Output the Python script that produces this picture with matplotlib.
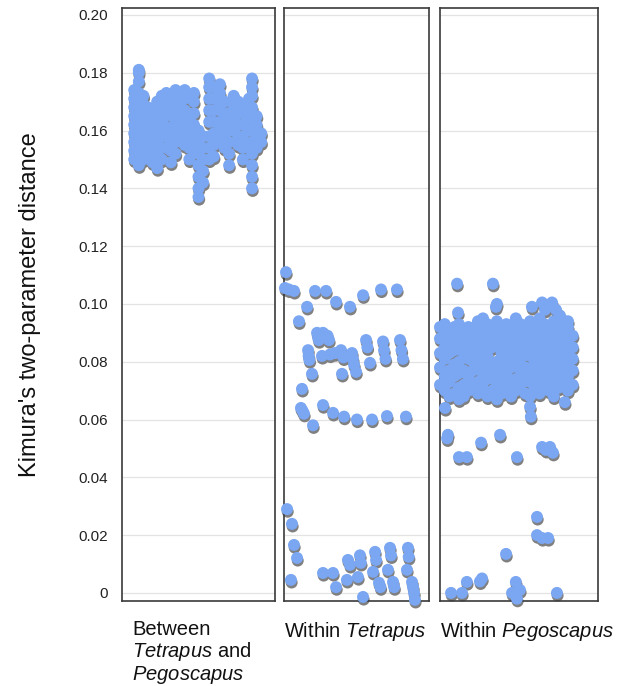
import matplotlib
matplotlib.use("Agg")
import matplotlib.pyplot as plt
import matplotlib.transforms as mtransforms
import numpy as np

plt.rcParams["font.family"] = ["Liberation Sans", "DejaVu Sans"]
plt.rcParams["mathtext.fontset"] = "custom"
plt.rcParams["mathtext.rm"] = "Liberation Sans"
plt.rcParams["mathtext.it"] = "Liberation Sans:italic"

# ── Data: pairwise K2P distances, x = comparison rank within group (0-100) ──
GROUP_LABELS = [
    "Between\n$\\it{Tetrapus}$ and\n$\\it{Pegoscapus}$",
    "Within $\\it{Tetrapus}$",
    "Within $\\it{Pegoscapus}$",
]
Y_TICKS = [0, 0.02, 0.04, 0.06, 0.08, 0.10, 0.12, 0.14, 0.16, 0.18, 0.20]
Y_TICK_LABELS = ["0", "0.02", "0.04", "0.06", "0.08", "0.10", "0.12", "0.14", "0.16", "0.18", "0.20"]

# between genera: columns of comparisons
between_cols = [8, 11, 14, 17, 20, 23, 26, 29, 32, 35, 38, 41, 44, 47, 50, 53, 57, 60,
                64, 67, 70, 73, 76, 79, 83, 85, 88, 91]
between_vals = [
    [0.150, 0.153, 0.156, 0.159, 0.162, 0.165, 0.168, 0.171, 0.174],
    [0.148, 0.152, 0.157, 0.160, 0.164, 0.167, 0.170, 0.173, 0.177, 0.180, 0.181],
    [0.150, 0.154, 0.158, 0.161, 0.165, 0.169, 0.172],
    [0.151, 0.155, 0.159, 0.162, 0.166, 0.168],
    [0.149, 0.153, 0.157, 0.160, 0.163, 0.167],
    [0.147, 0.152, 0.156, 0.160, 0.164, 0.168, 0.170],
    [0.150, 0.154, 0.158, 0.162, 0.165, 0.169, 0.172],
    [0.154, 0.158, 0.161, 0.165, 0.168, 0.172, 0.173],
    [0.149, 0.153, 0.157, 0.161, 0.166, 0.170, 0.172],
    [0.152, 0.156, 0.160, 0.163, 0.167, 0.171, 0.174],
    [0.158, 0.162, 0.165, 0.169, 0.172],
    [0.155, 0.159, 0.163, 0.167, 0.171, 0.174],
    [0.150, 0.154, 0.158, 0.161, 0.165],
    [0.153, 0.157, 0.162, 0.166, 0.170, 0.173],
    [0.137, 0.140, 0.144, 0.148, 0.152, 0.156, 0.160],
    [0.142, 0.146, 0.150, 0.154, 0.158],
    [0.150, 0.154, 0.158, 0.163, 0.167, 0.171, 0.175, 0.178],
    [0.151, 0.155, 0.159, 0.163, 0.167, 0.171, 0.175],
    [0.156, 0.160, 0.163, 0.167, 0.170, 0.173, 0.176],
    [0.154, 0.158, 0.162, 0.166, 0.170],
    [0.148, 0.152, 0.156, 0.160, 0.164, 0.166],
    [0.160, 0.163, 0.166, 0.169, 0.172],
    [0.155, 0.158, 0.162, 0.166, 0.170],
    [0.150, 0.154, 0.158, 0.162, 0.166, 0.168],
    [0.155, 0.160, 0.164, 0.168, 0.171],
    [0.140, 0.144, 0.148, 0.152, 0.156, 0.160, 0.164, 0.168, 0.172, 0.175, 0.178],
    [0.154, 0.158, 0.162, 0.165],
    [0.156, 0.159],
]

# within Tetrapus
tetrapus_x = [1.4, 0.7, 3.4, 6.9, 21.4, 29, 15.9, 35.9, 45.5, 54.5, 66.9, 77.9, 10.3,
              22.8, 23.5, 26.9, 28, 30, 31, 24,
              16.6, 17, 17.5, 26.2, 31.7, 35.2, 39.3, 41, 46.9, 47.5, 48.3, 49.7,
              56.6, 57.5, 59.3, 68.3, 69, 70, 80, 81, 82, 19.3, 40,
              12.4, 11.7, 12.8, 13.8, 20, 26.9, 33.8, 41.4, 50.3, 60.7, 71, 84.1,
              2.1, 5.5, 6.9, 9, 4.8, 26.9, 33.8, 35.9, 43.4, 44.1, 45.5, 51, 52.4, 53,
              54.5, 62.8, 63.5, 61.4, 65.5, 66.5, 73.1, 73.8, 71.7, 75.2, 76,
              85.5, 86, 84.8, 88.3, 89, 89.7, 90.3]
tetrapus_y = [0.111, 0.1055, 0.105, 0.1045, 0.1045, 0.1045, 0.099, 0.1007, 0.099, 0.103, 0.105, 0.105, 0.094,
              0.090, 0.0885, 0.090, 0.0885, 0.089, 0.0875, 0.0875,
              0.084, 0.082, 0.0806, 0.082, 0.0825, 0.083, 0.084, 0.0815, 0.083, 0.081, 0.079, 0.0765,
              0.0875, 0.085, 0.0796, 0.087, 0.084, 0.081, 0.0875, 0.084, 0.081, 0.0758, 0.0758,
              0.0706, 0.064, 0.063, 0.062, 0.058, 0.065, 0.0623, 0.061, 0.060, 0.060, 0.0612, 0.061,
              0.029, 0.0239, 0.0166, 0.0121, 0.0045, 0.0069, 0.0069, 0.002, 0.0045, 0.0114, 0.0097, 0.0055, 0.013, 0.0104,
              -0.0014, 0.0142, 0.0114, 0.0073, 0.0035, 0.002, 0.0156, 0.013, 0.008, 0.0038, 0.002,
              0.0156, 0.0125, 0.008, 0.0038, 0.002, 0.0, -0.0024]

# within Pegoscapus: dense core as columns, plus scattered pairs
pegoscapus_cols = [0, 3, 6, 9, 12, 15, 18, 21, 24, 27, 30, 33, 36, 39, 42, 45, 48, 51,
                   54, 57, 60, 63, 66, 69, 72, 75, 78, 81, 84]
pegoscapus_vals = [
    [0.072, 0.078, 0.083, 0.088, 0.092],
    [0.070, 0.075, 0.081, 0.085, 0.089, 0.093],
    [0.068, 0.073, 0.077, 0.083, 0.086, 0.091],
    [0.069, 0.075, 0.079, 0.084, 0.088, 0.092],
    [0.067, 0.071, 0.076, 0.080, 0.085, 0.089, 0.093],
    [0.068, 0.072, 0.077, 0.083, 0.087, 0.091],
    [0.070, 0.075, 0.081, 0.084, 0.088, 0.092],
    [0.072, 0.077, 0.080, 0.086, 0.090],
    [0.069, 0.073, 0.079, 0.083, 0.088, 0.091, 0.094],
    [0.071, 0.076, 0.081, 0.085, 0.089],
    [0.068, 0.074, 0.078, 0.082, 0.086, 0.090, 0.093],
    [0.070, 0.075, 0.079, 0.085, 0.088, 0.092],
    [0.067, 0.072, 0.077, 0.080, 0.086, 0.090, 0.094],
    [0.069, 0.074, 0.079, 0.083, 0.087, 0.091],
    [0.071, 0.076, 0.081, 0.085, 0.089, 0.093],
    [0.068, 0.073, 0.078, 0.082, 0.087, 0.090],
    [0.070, 0.074, 0.080, 0.084, 0.088, 0.092, 0.095],
    [0.072, 0.077, 0.081, 0.086, 0.089, 0.093],
    [0.069, 0.074, 0.078, 0.083, 0.087, 0.091],
    [0.068, 0.073, 0.077, 0.082, 0.086, 0.090, 0.094],
    [0.071, 0.076, 0.080, 0.084, 0.088, 0.092],
    [0.069, 0.074, 0.079, 0.083, 0.087, 0.091, 0.095],
    [0.072, 0.077, 0.081, 0.085, 0.089, 0.093],
    [0.070, 0.075, 0.079, 0.084, 0.088, 0.092],
    [0.068, 0.073, 0.078, 0.082, 0.086, 0.090, 0.094],
    [0.071, 0.076, 0.080, 0.085, 0.089, 0.093],
    [0.073, 0.077, 0.082, 0.086, 0.090],
    [0.070, 0.075, 0.079, 0.084, 0.088, 0.092],
    [0.072, 0.077, 0.081, 0.085, 0.089],
]
pegoscapus_x = [10.8, 33.5, 35.4, 36, 58.2, 64.6, 66.5, 70.9, 73.4, 75.9, 79, 81, 11.4, 27.2,
                3.2, 57, 57.5, 79, 5, 4.5, 12, 17, 26, 38, 48.7, 64.6, 67, 69.6, 71.5,
                61.4, 61.4, 64.6, 68.4, 41.8, 7, 13.9, 17, 25.3, 26.6, 48, 45.6, 48.7, 50.6, 74]
pegoscapus_y = [0.107, 0.107, 0.099, 0.1, 0.099, 0.1005, 0.098, 0.1005, 0.098, 0.096, 0.094, 0.094, 0.097, 0.095,
                0.064, 0.0644, 0.061, 0.066, 0.0547, 0.0535, 0.047, 0.047, 0.052, 0.0547, 0.047, 0.0505, 0.0495, 0.0505, 0.0485,
                0.0263, 0.020, 0.019, 0.019, 0.0135, 0.0, 0.0, 0.0038, 0.004, 0.005, 0.0038, 0.0, -0.002, 0.001, 0.0]

FILL = "#7aa6f2"
SHADOW = "#808080"


def flatten_cols(cols, vals):
    xs = [c for c, v in zip(cols, vals) for _ in v]
    ys = [y for v in vals for y in v]
    return xs, ys


def scatter_shadowed(fig, ax, x, y):
    shadow = mtransforms.offset_copy(ax.transData, fig=fig, x=0.5, y=-1.9, units="points")
    ax.scatter(x, y, s=74, marker="o", color=SHADOW, edgecolors="none", transform=shadow, zorder=2, clip_on=False)
    ax.scatter(x, y, s=74, marker="o", color=FILL, edgecolors="none", zorder=3, clip_on=False)


def main():
    W, H = 624, 686
    fig = plt.figure(figsize=(W / 100, H / 100), dpi=100)

    # panel extents in pixels (left, right)
    panels = [(122, 275), (284, 429), (440, 598)]
    top, bottom = 8, 601

    bx, by = flatten_cols(between_cols, between_vals)
    px, py = flatten_cols(pegoscapus_cols, pegoscapus_vals)
    series = [
        (bx, by),
        (tetrapus_x, tetrapus_y),
        (px + pegoscapus_x, py + pegoscapus_y),
    ]
    label_x = [0.065, 0.0, 0.0]

    for i, ((l, r), (xs, ys)) in enumerate(zip(panels, series)):
        ax = fig.add_axes([l / W, (H - bottom) / H, (r - l) / W, (bottom - top) / H])
        ax.set_xlim(0, 100)
        ax.set_ylim(-0.0028, 0.2024)
        ax.set_yticks(Y_TICKS)
        ax.set_xticks([])
        ax.grid(axis="y", color="#e3e3e3", linewidth=0.9, zorder=0)
        ax.set_axisbelow(True)
        for sp in ax.spines.values():
            sp.set_color("#3a3a3a")
            sp.set_linewidth(1.2)
        ax.tick_params(axis="y", length=0, pad=10, labelsize=11, labelcolor="#222222")
        if i == 0:
            ax.set_yticklabels(Y_TICK_LABELS)
        else:
            ax.set_yticklabels([])
        scatter_shadowed(fig, ax, xs, ys)
        ax.text(label_x[i], -0.032, GROUP_LABELS[i], transform=ax.transAxes,
                ha="left", va="top", fontsize=14.5, color="#111111", linespacing=1.05)

    fig.text(30 / W, 1 - ((top + bottom) / 2) / H, "Kimura's two-parameter distance",
             rotation=90, ha="center", va="center", fontsize=17, color="#111111")

    plt.savefig("out.png", dpi=100)


if __name__ == "__main__":
    main()
